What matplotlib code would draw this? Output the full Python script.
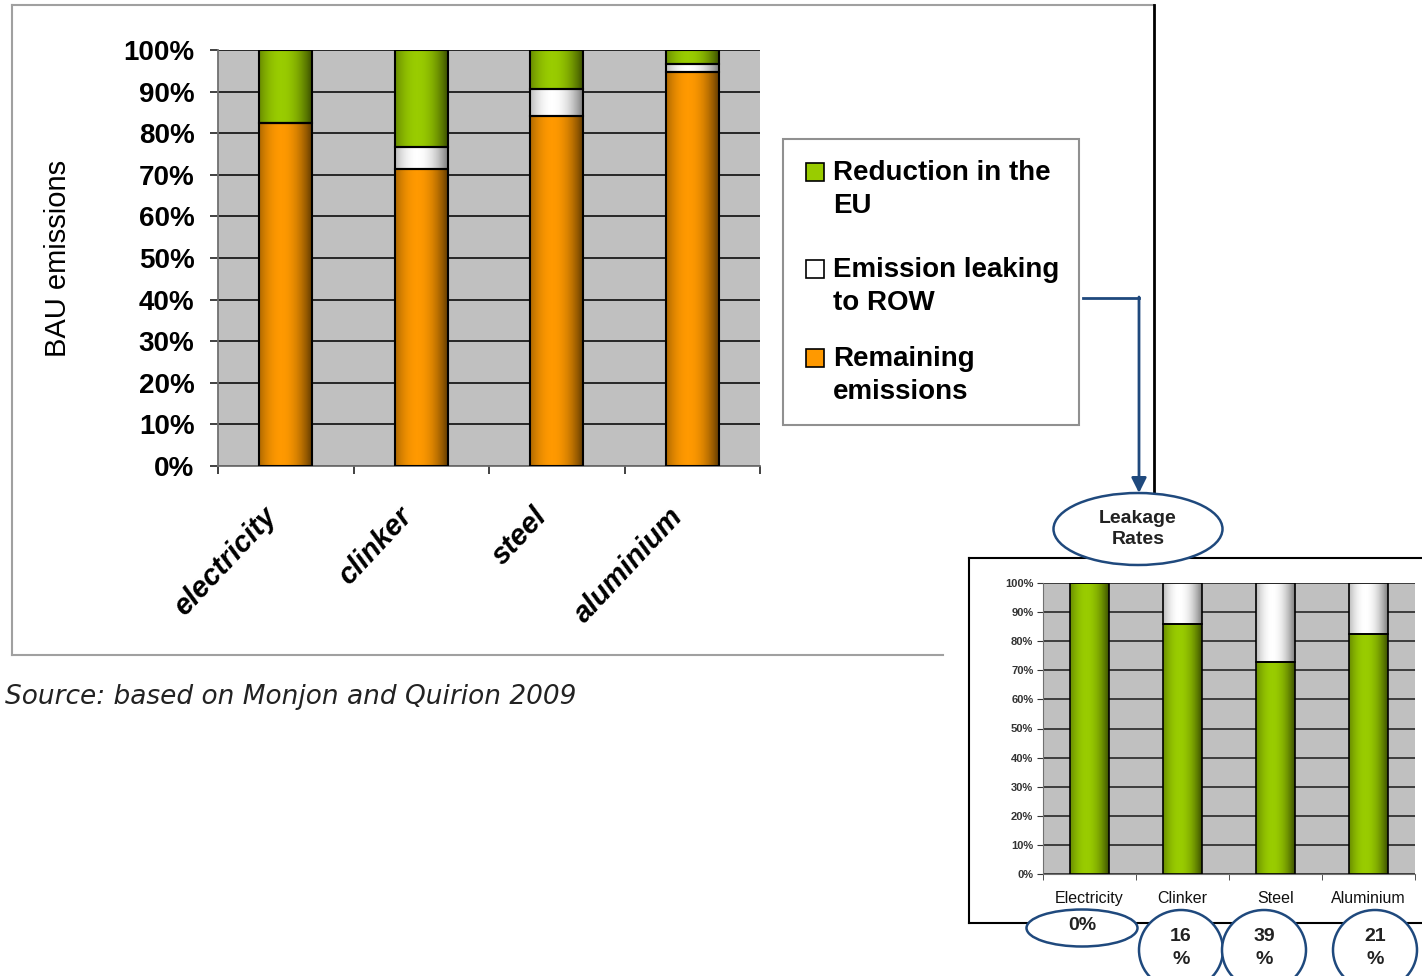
import numpy as np
import matplotlib
matplotlib.use('Agg')
import matplotlib.pyplot as plt
import matplotlib.colors as mcolors
from matplotlib.patches import Ellipse, Rectangle

W, H = 1422, 976

# main chart: share of BAU emissions (%)
categories = ['electricity', 'clinker', 'steel', 'aluminium']
remaining = [82.5, 71.5, 84.2, 94.6]
leaking = [0.0, 5.3, 6.4, 2.0]
reduction = [17.5, 23.2, 9.4, 3.4]
legend_labels = ['Reduction in the\nEU', 'Emission leaking\nto ROW', 'Remaining\nemissions']

# inset: leakage rates
leak_categories = ['Electricity', 'Clinker', 'Steel', 'Aluminium']
leak_reduction = [100.0, 86.0, 72.7, 82.6]
leak_leaking = [0.0, 14.0, 27.3, 17.4]
leak_rates = ['0%', '16\n%', '39\n%', '21\n%']

GREEN = '#99cc00'
ORANGE = '#ff9900'
WHITE = '#ffffff'
NAVY = '#1f497d'

plt.rcParams['font.family'] = ['Liberation Sans', 'DejaVu Sans']


def px(l, t, r, b):
    # pixel box -> figure fraction
    return [l / W, 1 - b / H, (r - l) / W, (b - t) / H]


def shade(color, edge_factor):
    base = np.array(mcolors.to_rgb(color))
    return mcolors.LinearSegmentedColormap.from_list('s', [base * edge_factor, base])


t = np.linspace(0, 1, 64)
grad = (1 - np.clip(np.abs(t - 0.42) / 0.58, 0, 1) ** 2.0)[np.newaxis, :]


# bars with the excel-like cylinder shading
def cylinder_bars(ax, x, heights, bottoms, width, color, lw, edge_factor=0.4):
    bars = ax.bar(x, heights, width, bottom=bottoms, facecolor='none',
                  edgecolor='black', linewidth=lw, zorder=3)
    cmap = shade(color, edge_factor)
    for rect in bars:
        if rect.get_height() <= 0:
            continue
        x0, y0 = rect.get_x(), rect.get_y()
        ax.imshow(grad, extent=[x0, x0 + rect.get_width(), y0, y0 + rect.get_height()],
                  aspect='auto', cmap=cmap, vmin=0, vmax=1, zorder=2,
                  interpolation='bilinear')
    return bars


fig = plt.figure(figsize=(W / 100, H / 100), dpi=100)

# ---------------- main chart ----------------
ax = fig.add_axes(px(218, 50, 760, 466))
ax.set_facecolor('#c0c0c0')
x = np.arange(len(categories))
cylinder_bars(ax, x, remaining, 0, 0.39, ORANGE, 1.5)
cylinder_bars(ax, x, leaking, remaining, 0.39, WHITE, 1.5, 0.5)
cylinder_bars(ax, x, reduction, np.add(remaining, leaking), 0.39, GREEN, 1.5)
ax.set_xlim(-0.5, len(categories) - 0.5)
ax.set_ylim(0, 100)
ax.set_yticks(np.arange(0, 101, 10))
ax.set_yticklabels([f'{v}%' for v in range(0, 101, 10)], fontsize=20, fontweight='bold')
ax.yaxis.grid(True, color='#1a1a1a', lw=1.3)
ax.set_axisbelow(True)
for s in ['top', 'right']:
    ax.spines[s].set_visible(False)
for s in ['left', 'bottom']:
    ax.spines[s].set_color('#707070')
    ax.spines[s].set_linewidth(1.3)
ax.tick_params(axis='y', length=6, width=1.3, color='#333333', pad=11)
# label anchors sit a little left of the bar centres, as in the excel original
ax.set_xticks(x - 0.18)
ax.set_xticklabels(categories, rotation=47, ha='right', rotation_mode='anchor',
                   fontsize=21, fontweight='bold', fontstyle='italic')
ax.set_xticks(np.arange(len(categories) + 1) - 0.5, minor=True)
ax.tick_params(axis='x', which='major', length=0, pad=26)
ax.tick_params(axis='x', which='minor', length=6, width=1.3, color='#333333')
ax.set_ylabel('BAU emissions', fontsize=21)
ax.yaxis.set_label_coords(-0.27, 0.5)

# ---------------- inset: leakage rates ----------------
ax2 = fig.add_axes(px(1043, 583, 1415, 874))
ax2.set_facecolor('#c0c0c0')
x2 = np.arange(len(leak_categories))
cylinder_bars(ax2, x2, leak_reduction, 0, 0.41, GREEN, 1.2)
cylinder_bars(ax2, x2, leak_leaking, leak_reduction, 0.41, WHITE, 1.2, 0.5)
ax2.set_xlim(-0.5, len(leak_categories) - 0.5)
ax2.set_ylim(0, 100)
ax2.set_yticks(np.arange(0, 101, 10))
ax2.set_yticklabels([f'{v}%' for v in range(0, 101, 10)], fontsize=8, fontweight='bold',
                    color='#333333')
ax2.yaxis.grid(True, color='#1a1a1a', lw=1.1)
ax2.set_axisbelow(True)
for s in ['top', 'right']:
    ax2.spines[s].set_visible(False)
for s in ['left', 'bottom']:
    ax2.spines[s].set_color('#707070')
ax2.tick_params(axis='y', length=4, color='#333333', pad=3)
ax2.set_xticks(x2)
ax2.set_xticklabels(leak_categories, fontsize=11.5, color='#111111')
ax2.set_xticks(np.arange(len(leak_categories) + 1) - 0.5, minor=True)
ax2.tick_params(axis='x', which='major', length=0, pad=12)
ax2.tick_params(axis='x', which='minor', length=4, color='#333333')

# ---------------- overlay: frames, legend, arrow, ellipses ----------------
ov = fig.add_axes([0, 0, 1, 1])
ov.set_xlim(0, W)
ov.set_ylim(H, 0)
ov.axis('off')

ov.plot([12, 1154], [5, 5], color='#a0a0a0', lw=1.5)
ov.plot([12, 12], [5, 655], color='#a0a0a0', lw=1.5)
ov.plot([12, 943], [655, 655], color='#a0a0a0', lw=1.5)
ov.plot([1154, 1154], [5, 493], color='black', lw=2)

# legend
ov.add_patch(Rectangle((783, 139), 296, 286, facecolor='white', edgecolor='#909090', lw=1.5))
legend_colors = [GREEN, WHITE, ORANGE]
legend_y = [163, 260, 349]
for lab, col, y in zip(legend_labels, legend_colors, legend_y):
    ov.add_patch(Rectangle((806, y), 18, 18, facecolor=col, edgecolor='black', lw=1.2))
    ov.text(833, y - 3, lab, fontsize=20, fontweight='bold', va='top', ha='left',
            linespacing=1.35)

# arrow from legend to the inset
ov.plot([1083, 1139], [298, 298], color=NAVY, lw=2)
ov.annotate('', xy=(1139, 493), xytext=(1139, 297),
            arrowprops=dict(arrowstyle='-|>,head_length=0.9,head_width=0.45',
                            color=NAVY, lw=2, shrinkA=0, shrinkB=0))

# inset frame
ov.plot([969, W], [558, 558], color='black', lw=1.5)
ov.plot([969, 969], [558, 923], color='black', lw=1.5)
ov.plot([969, W], [923, 923], color='black', lw=1.5)

ov.add_patch(Ellipse((1138, 529), 169, 72, facecolor='white', edgecolor=NAVY, lw=1.8, zorder=5))
ov.text(1138, 529, 'Leakage\nRates', fontsize=14, fontweight='bold', ha='center',
        va='center', zorder=6, linespacing=1.3, color='#222222')

rate_boxes = [(1082, 928, 111, 37), (1181, 950, 84, 80), (1264, 950, 84, 80), (1375, 950, 84, 80)]
for lab, (cx, cy, ew, eh) in zip(leak_rates, rate_boxes):
    ov.add_patch(Ellipse((cx, cy), ew, eh, facecolor='white', edgecolor=NAVY, lw=1.8, zorder=5))
    ov.text(cx, cy - 2, lab, fontsize=14, fontweight='bold', ha='center', va='center',
            zorder=6, linespacing=1.4, color='#222222')

fig.text(5 / W, 1 - 697 / H, 'Source: based on Monjon and Quirion 2009',
         fontsize=19, fontstyle='italic', family='DejaVu Sans', va='center',
         color='#222222')

fig.savefig('out.png', dpi=100)
